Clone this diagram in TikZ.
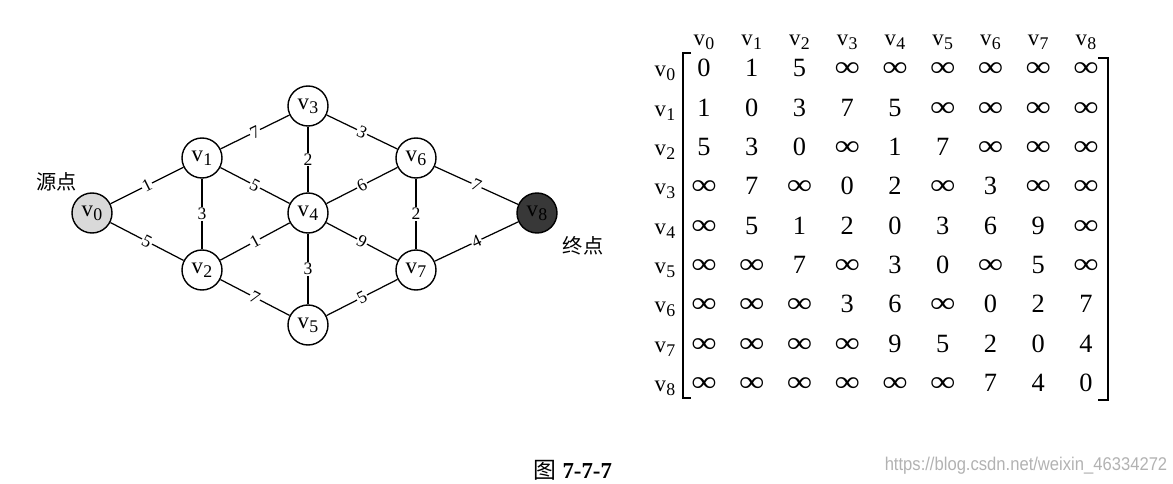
\documentclass[tikz,border=0pt]{standalone}
\usepackage{fontspec}
\setmainfont{Liberation Serif}
\newfontfamily\cjk{Noto Sans CJK SC}
\newfontfamily\wmfont{Liberation Sans}
\newcommand\vx[1]{v\kern0.2pt\raisebox{-0.38ex}{\scalebox{0.78}{#1}}}
\newcommand\oo{\scalebox{1.35}[1.1]{∞}}

\tikzset{
  vertex/.style={circle,draw,line width=0.8pt,minimum size=0.8cm,inner sep=0pt,font=\fontsize{13}{13}\selectfont},
  edge/.style={line width=0.7pt},
  weight/.style={fill=white,inner sep=0.6pt,font=\fontsize{10}{10}\selectfont},
  entry/.style={anchor=base,inner sep=0pt,font=\fontsize{15}{15}\selectfont},
  veclab/.style={anchor=base,inner sep=0pt,font=\fontsize{13}{13}\selectfont},
  tag/.style={font=\cjk\fontsize{11.5}{12}\selectfont},
}

\begin{document}
\begin{tikzpicture}
  \useasboundingbox (0,0) rectangle (23.46,-9.68);

  % graph
  \node [vertex,fill=black!15] (v0) at (1.84,-4.26) {\vx{0}};
  \node [vertex] (v1) at (4.04,-3.16) {\vx{1}};
  \node [vertex] (v2) at (4.04,-5.40) {\vx{2}};
  \node [vertex] (v3) at (6.16,-2.12) {\vx{3}};
  \node [vertex] (v4) at (6.16,-4.26) {\vx{4}};
  \node [vertex] (v5) at (6.16,-6.50) {\vx{5}};
  \node [vertex] (v6) at (8.32,-3.16) {\vx{6}};
  \node [vertex] (v7) at (8.32,-5.40) {\vx{7}};
  \node [vertex,fill=black!78,text=black] (v8) at (10.74,-4.26) {\vx{8}};
  \node [tag] (src) at (1.14,-3.64) {源点};
  \node [tag] (dst) at (11.66,-4.92) {终点};

  \draw [edge] (v0) -- node[weight,sloped] {1} (v1);
  \draw [edge] (v0) -- node[weight,sloped] {5} (v2);
  \draw [edge] (v1) -- node[weight] {3} (v2);
  \draw [edge] (v1) -- node[weight,sloped] {7} (v3);
  \draw [edge] (v1) -- node[weight,sloped] {5} (v4);
  \draw [edge] (v2) -- node[weight,sloped] {1} (v4);
  \draw [edge] (v2) -- node[weight,sloped] {7} (v5);
  \draw [edge] (v3) -- node[weight] {2} (v4);
  \draw [edge] (v4) -- node[weight] {3} (v5);
  \draw [edge] (v3) -- node[weight,sloped] {3} (v6);
  \draw [edge] (v4) -- node[weight,sloped] {6} (v6);
  \draw [edge] (v4) -- node[weight,sloped] {9} (v7);
  \draw [edge] (v5) -- node[weight,sloped] {5} (v7);
  \draw [edge] (v6) -- node[weight] {2} (v7);
  \draw [edge] (v6) -- node[weight,sloped] {7} (v8);
  \draw [edge] (v7) -- node[weight,sloped] {4} (v8);

  % adjacency matrix
  \foreach \c in {0,...,8}
    \node [veclab] (h\c) at ({14.08+0.955*\c},-0.92) {\vx{\c}};
  \foreach \r in {0,...,8}
    \node [veclab] (r\r) at (13.30,{-1.54-0.786*\r}) {\vx{\r}};
  \foreach \vals [count=\r from 0] in {
      {0,1,5,\oo,\oo,\oo,\oo,\oo,\oo},
      {1,0,3,7,5,\oo,\oo,\oo,\oo},
      {5,3,0,\oo,1,7,\oo,\oo,\oo},
      {\oo,7,\oo,0,2,\oo,3,\oo,\oo},
      {\oo,5,1,2,0,3,6,9,\oo},
      {\oo,\oo,7,\oo,3,0,\oo,5,\oo},
      {\oo,\oo,\oo,3,6,\oo,0,2,7},
      {\oo,\oo,\oo,\oo,9,5,2,0,4},
      {\oo,\oo,\oo,\oo,\oo,\oo,7,4,0}}
    \foreach \e [count=\c from 0] in \vals
      \node [entry] (m\r\c) at ({14.08+0.955*\c},{-1.54-0.786*\r}) {\e};
  \draw [line width=0.8pt] (13.82,-1.06) -- (13.66,-1.06) -- (13.66,-7.96) -- (13.82,-7.96);
  \draw [line width=0.8pt] (21.96,-1.16) -- (22.16,-1.16) -- (22.16,-8.00) -- (21.96,-8.00);

  \node [font=\fontsize{13}{13}\selectfont] (cap) at (11.46,-9.40) {{\cjk 图} \textbf{7-7-7}};
  \node [text=black!30,font=\wmfont\fontsize{10.5}{10.5}\selectfont] (url) at (20.52,-9.32)
    {\scalebox{0.9}[1]{https://blog.csdn.net/weixin\_46334272}};
\end{tikzpicture}
\end{document}
